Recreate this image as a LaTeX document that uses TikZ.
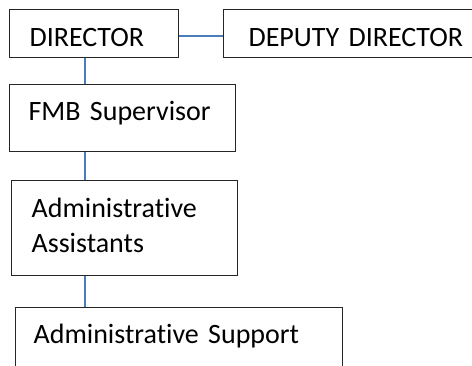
\documentclass[tikz,border=0pt]{standalone}
\usepackage{fontspec}
\setmainfont{Carlito}[Ligatures=NoCommon]
\definecolor{linkblue}{RGB}{74,126,187}

\tikzset{
    orgbox/.style={draw=black!85, line width=1.2pt, anchor=north west,
        inner ysep=0pt, align=left, font=\fontsize{28}{34.5}\selectfont},
    orglink/.style={linkblue, line width=1.5pt}
}

\begin{document}
\begin{tikzpicture}[
        x=1pt, y=-1pt
    ]
        \useasboundingbox (0,0) rectangle (472,365);

        \node [orgbox, inner xsep=20pt, text width=129pt, text height=37pt, text depth=11pt] (dir) at (9,9) {DIRECTOR};
        \node [orgbox, inner xsep=25pt, text width=227pt, text height=37pt, text depth=11pt] (dep) at (223,9) {DEPUTY DIRECTOR};
        \node [orgbox, inner xsep=19pt, text width=188pt, text height=36pt, text depth=31pt] (fmb) at (9,84) {FMB Supervisor};
        \node [orgbox, inner xsep=20pt, text width=186pt, text height=37pt, text depth=58pt] (assist) at (11,180) {Administrative\\Assistants};
        \node [orgbox, inner xsep=18pt, text width=291pt, text height=36pt, text depth=34pt] (support) at (15,307) {Administrative Support};

        % links
        \coordinate (spine) at (85,0);
        \draw [orglink] ([yshift=-2.5pt]dir.east) -- ([yshift=-2.5pt]dep.west);
        \draw [orglink] (dir.south -| spine) -- (fmb.north -| spine);
        \draw [orglink] (fmb.south -| spine) -- (assist.north -| spine);
        \draw [orglink] (assist.south -| spine) -- (support.north -| spine);
    \end{tikzpicture}
\end{document}
